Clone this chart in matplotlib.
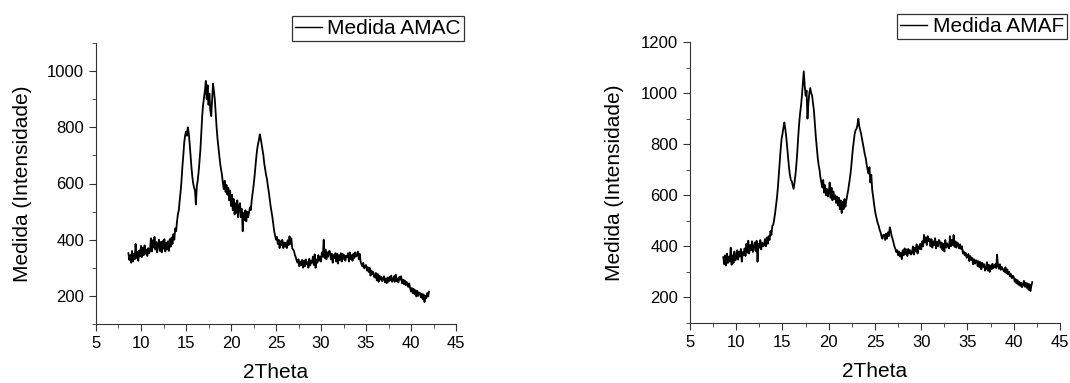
import matplotlib
matplotlib.use("Agg")
import matplotlib.pyplot as plt
import matplotlib.ticker as mticker
import numpy as np

plt.rcParams["font.family"] = ["Liberation Sans", "DejaVu Sans"]

# 2Theta sampling grid (0.1 deg steps, 8.6 .. 42.0)
theta = np.round(np.arange(8.6, 42.0001, 0.1), 1)

# intensities, one row per degree
amac = [
    352, 328, 345, 318,
    360, 322, 350, 330, 385, 335, 358, 325, 362, 340,   # 9
    378, 338, 372, 345, 380, 350, 365, 342, 370, 352,   # 10
    360, 405, 358, 398, 372, 410, 365, 392, 355, 385,   # 11
    400, 360, 392, 355, 395, 368, 402, 358, 390, 365,   # 12
    395, 360, 402, 375, 408, 385, 420, 400, 440, 430,   # 13
    465, 490, 505, 540, 570, 610, 660, 700, 745, 770,   # 14
    785, 770, 800, 780, 745, 700, 660, 625, 600, 585,   # 15
    575, 525, 590, 610, 640, 680, 720, 780, 840, 880,   # 16
    905, 930, 965, 900, 950, 880, 920, 860, 840, 900,   # 17
    955, 930, 900, 850, 800, 760, 730, 700, 670, 650,   # 18
    630, 600, 580, 610, 570, 595, 560, 585, 540, 575,   # 19
    520, 560, 505, 545, 490, 530, 495, 540, 480, 520,   # 20
    530, 480, 510, 430, 495, 470, 505, 465, 500, 480,   # 21
    495, 515, 505, 540, 565, 590, 620, 655, 690, 720,   # 22
    740, 755, 775, 760, 740, 720, 700, 670, 650, 630,   # 23
    615, 590, 570, 545, 520, 500, 480, 455, 430, 415,   # 24
    400, 410, 385, 400, 370, 395, 380, 400, 370, 390,   # 25
    375, 390, 370, 398, 380, 412, 385, 405, 370, 365,   # 26
    360, 345, 338, 325, 318, 330, 305, 322, 310, 328,   # 27
    300, 325, 305, 330, 312, 320, 300, 332, 308, 325,   # 28
    318, 340, 310, 348, 300, 330, 318, 345, 325, 340,   # 29
    322, 355, 340, 400, 335, 365, 330, 355, 340, 360,   # 30
    358, 330, 350, 318, 345, 335, 352, 322, 350, 315,   # 31
    345, 328, 352, 322, 350, 332, 345, 325, 342, 338,   # 32
    352, 322, 355, 330, 345, 325, 350, 335, 355, 340,   # 33
    345, 358, 330, 350, 322, 312, 305, 318, 298, 305,   # 34
    310, 290, 302, 285, 300, 272, 290, 278, 285, 268,   # 35
    265, 282, 255, 278, 250, 272, 258, 268, 252, 262,   # 36
    270, 248, 262, 245, 265, 250, 268, 255, 272, 250,   # 37
    255, 270, 250, 276, 252, 262, 248, 268, 258, 270,   # 38
    245, 258, 242, 255, 238, 250, 240, 232, 245, 228,   # 39
    215, 228, 210, 225, 205, 220, 198, 218, 200, 212,   # 40
    210, 195, 208, 188, 205, 178, 200, 192, 210, 198,   # 41
    215,
]

amaf = [
    358, 330, 365, 325,
    372, 335, 360, 340, 395, 328, 365, 335, 380, 345,   # 9
    355, 385, 348, 380, 360, 390, 340, 378, 365, 392,   # 10
    362, 410, 375, 422, 372, 405, 385, 420, 378, 400,   # 11
    415, 382, 422, 340, 410, 395, 425, 388, 415, 400,   # 12
    405, 428, 400, 435, 410, 440, 425, 460, 445, 480,   # 13
    485, 505, 530, 560, 590, 630, 680, 730, 780, 820,   # 14
    840, 865, 885, 860, 830, 790, 750, 710, 680, 660,   # 15
    655, 640, 625, 650, 680, 720, 770, 830, 880, 920,   # 16
    950, 990, 1040, 1085, 1030, 990, 1010, 900, 960, 1000,  # 17
    1020, 1000, 990, 960, 930, 880, 830, 790, 750, 720,  # 18
    700, 670, 650, 630, 660, 610, 640, 600, 625, 595,   # 19
    610, 650, 590, 630, 580, 615, 585, 600, 570, 595,   # 20
    560, 590, 545, 580, 530, 575, 545, 585, 555, 580,   # 21
    600, 620, 645, 670, 700, 740, 780, 810, 840, 855,   # 22
    860, 875, 900, 870, 855, 840, 820, 800, 780, 760,   # 23
    745, 720, 700, 685, 710, 650, 680, 620, 595, 565,   # 24
    540, 520, 505, 490, 480, 465, 455, 440, 430, 445,   # 25
    445, 425, 450, 430, 455, 440, 475, 460, 440, 430,   # 26
    415, 400, 390, 378, 385, 365, 380, 360, 375, 350,   # 27
    385, 365, 392, 370, 388, 362, 390, 372, 385, 368,   # 28
    375, 400, 368, 395, 380, 408, 372, 400, 390, 410,   # 29
    388, 420, 400, 445, 415, 435, 405, 440, 420, 430,   # 30
    400, 428, 395, 420, 405, 432, 392, 418, 400, 425,   # 31
    420, 395, 415, 385, 410, 380, 425, 395, 412, 400,   # 32
    392, 440, 400, 425, 405, 445, 398, 420, 395, 415,   # 33
    410, 392, 408, 390, 400, 372, 380, 365, 375, 355,   # 34
    358, 370, 342, 362, 348, 355, 330, 350, 332, 345,   # 35
    345, 322, 342, 318, 338, 310, 335, 320, 330, 305,   # 36
    312, 338, 305, 328, 300, 325, 310, 332, 315, 320,   # 37
    330, 315, 368, 322, 312, 330, 308, 320, 312, 305,   # 38
    300, 318, 295, 310, 290, 300, 282, 292, 275, 285,   # 39
    280, 262, 272, 255, 268, 250, 262, 245, 258, 240,   # 40
    250, 265, 242, 258, 238, 255, 230, 252, 225, 245,   # 41
    260,
]

W, H = 1070, 383
fig = plt.figure(figsize=(W / 100, H / 100), dpi=100)


def panel(box, y, label, ylim, yticks, leg_anchor):
    l, t, r, b = box
    ax = fig.add_axes([l / W, 1 - b / H, (r - l) / W, (b - t) / H])
    ax.plot(theta, y, color="black", linewidth=1.3, label=label)
    ax.set_xlim(5, 45)
    ax.set_ylim(*ylim)
    ax.xaxis.set_major_locator(mticker.MultipleLocator(5))
    ax.xaxis.set_minor_locator(mticker.MultipleLocator(2.5))
    ax.set_yticks(yticks)
    ax.yaxis.set_minor_locator(mticker.MultipleLocator(100))
    for s in ("top", "right"):
        ax.spines[s].set_visible(False)
    for s in ("left", "bottom"):
        ax.spines[s].set_color("#333333")
    ax.tick_params(which="major", direction="out", length=5, labelsize=12,
                   color="#333333")
    ax.tick_params(which="minor", direction="out", length=3, color="#333333")
    ax.set_xlabel("2Theta", fontsize=15)
    ax.set_ylabel("Medida (Intensidade)", fontsize=15)
    ax.xaxis.set_label_coords(0.5, -0.14)
    ax.yaxis.set_label_coords(-0.178, 0.5)
    leg = ax.legend(loc="upper right", bbox_to_anchor=(leg_anchor[0] / W, 1 - leg_anchor[1] / H),
                    bbox_transform=fig.transFigure, fontsize=15, frameon=True,
                    fancybox=False, handlelength=1.3, handletextpad=0.25,
                    borderpad=0.15, borderaxespad=0)
    leg.get_frame().set_edgecolor("black")
    leg.get_frame().set_linewidth(0.9)
    for h in leg.get_lines():
        h.set_linewidth(1.0)
    return ax


panel((96, 43, 456, 324), amac, "Medida AMAC", (100, 1100),
      [200, 400, 600, 800, 1000], (464, 16))
panel((690, 42, 1060, 323), amaf, "Medida AMAF", (100, 1200),
      [200, 400, 600, 800, 1000, 1200], (1067, 14))

fig.savefig("out.png", dpi=100)
